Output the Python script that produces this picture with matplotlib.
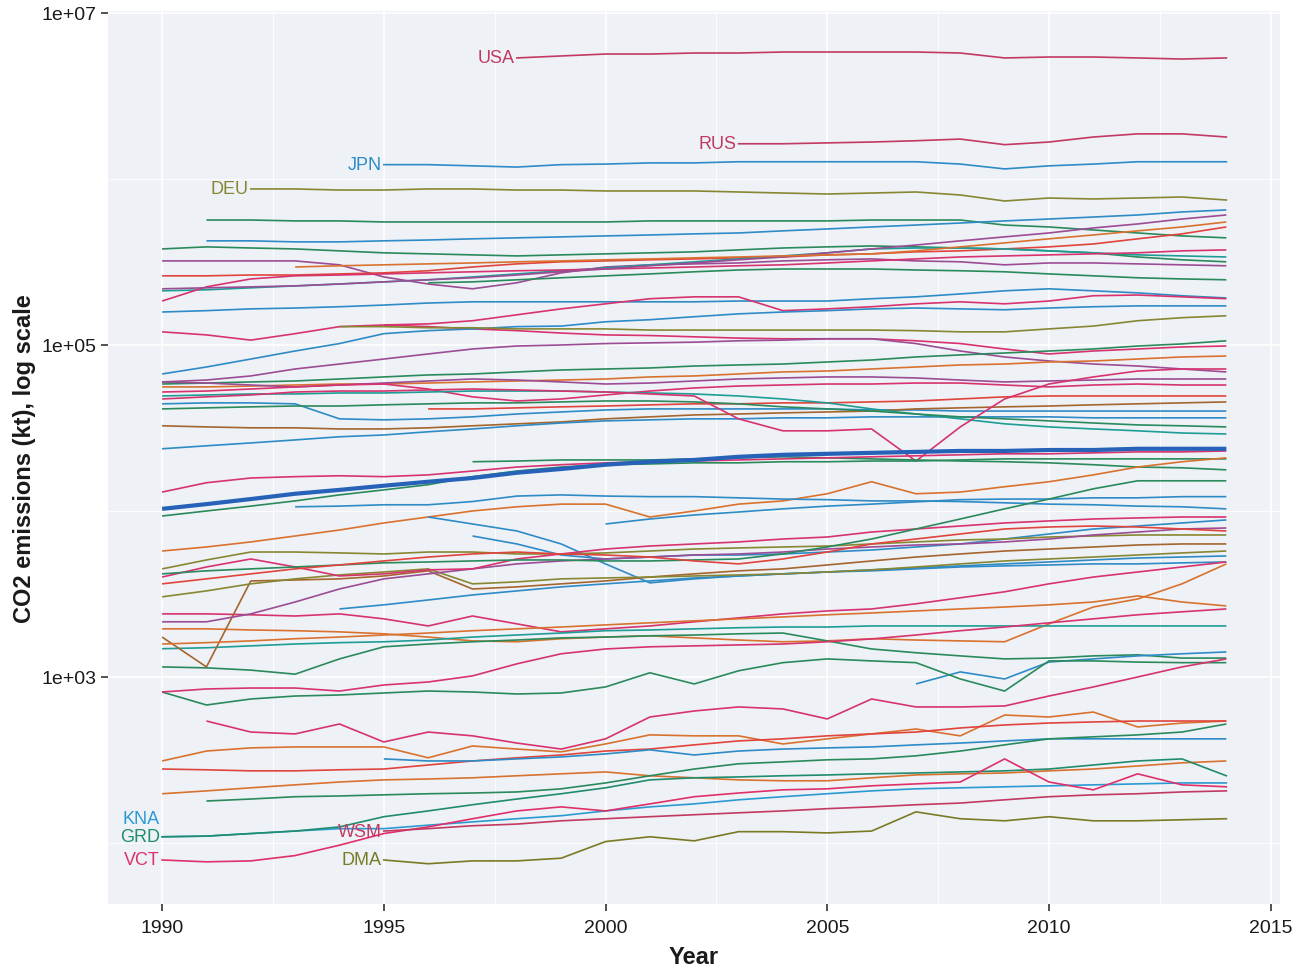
import matplotlib
matplotlib.use("Agg")
import matplotlib.pyplot as plt
from matplotlib.ticker import FixedLocator, FixedFormatter, NullFormatter

plt.rcParams['font.family'] = ['Liberation Sans', 'DejaVu Sans']

# ---------------- data (kt of CO2, yearly from the start year) ----------------
usa = [5.36e6, 5.51e6, 5.66e6, 5.66e6, 5.74e6, 5.74e6, 5.82e6, 5.82e6, 5.82e6, 5.82e6, 5.74e6, 5.36e6, 5.43e6, 5.43e6, 5.36e6, 5.28e6, 5.36e6]
rus = [1.63e6, 1.63e6, 1.65e6, 1.67e6, 1.70e6, 1.74e6, 1.61e6, 1.67e6, 1.79e6, 1.87e6, 1.87e6, 1.79e6]
jpn = [1.22e6, 1.22e6, 1.20e6, 1.18e6, 1.22e6, 1.23e6, 1.25e6, 1.25e6, 1.27e6, 1.27e6, 1.27e6, 1.27e6, 1.27e6, 1.23e6, 1.15e6, 1.20e6, 1.23e6, 1.27e6, 1.27e6, 1.27e6]
deu = [8.71e5, 8.71e5, 8.58e5, 8.58e5, 8.71e5, 8.71e5, 8.58e5, 8.58e5, 8.47e5, 8.47e5, 8.47e5, 8.35e5, 8.23e5, 8.12e5, 8.23e5, 8.35e5, 8.01e5, 7.37e5, 7.68e5, 7.58e5, 7.68e5, 7.79e5, 7.47e5]

a01 = [5.66e5, 5.66e5, 5.59e5, 5.59e5, 5.51e5, 5.51e5, 5.51e5, 5.51e5, 5.51e5, 5.51e5, 5.59e5, 5.59e5, 5.59e5, 5.59e5, 5.59e5, 5.66e5, 5.66e5, 5.66e5, 5.28e5, 5.14e5, 4.93e5, 4.73e5, 4.54e5, 4.42e5]
a02 = [4.24e5, 4.24e5, 4.18e5, 4.18e5, 4.24e5, 4.29e5, 4.36e5, 4.42e5, 4.48e5, 4.54e5, 4.60e5, 4.67e5, 4.73e5, 4.87e5, 5.0e5, 5.14e5, 5.28e5, 5.43e5, 5.59e5, 5.74e5, 5.9e5, 6.07e5, 6.33e5, 6.51e5]
a03 = [3.79e5, 3.9e5, 3.84e5, 3.79e5, 3.69e5, 3.59e5, 3.54e5, 3.49e5, 3.44e5, 3.49e5, 3.54e5, 3.59e5, 3.64e5, 3.74e5, 3.84e5, 3.9e5, 3.95e5, 3.9e5, 3.84e5, 3.79e5, 3.69e5, 3.59e5, 3.39e5, 3.26e5, 3.17e5]
a04 = [3.21e5, 3.21e5, 3.21e5, 3.21e5, 3.04e5, 2.57e5, 2.33e5, 2.18e5, 2.37e5, 2.72e5, 2.95e5, 3.04e5, 3.08e5, 3.12e5, 3.21e5, 3.26e5, 3.3e5, 3.21e5, 3.17e5, 3.04e5, 3.12e5, 3.12e5, 3.08e5, 3.04e5, 3.0e5]
a05 = [2.61e5, 2.61e5, 2.64e5, 2.64e5, 2.68e5, 2.72e5, 2.8e5, 2.95e5, 3.08e5, 3.17e5, 3.21e5, 3.26e5, 3.3e5, 3.35e5, 3.39e5, 3.49e5, 3.54e5, 3.64e5, 3.69e5, 3.79e5, 3.9e5, 4.06e5, 4.36e5, 4.67e5, 5.14e5]
a06 = [2.12e5, 2.15e5, 2.21e5, 2.27e5, 2.33e5, 2.4e5, 2.47e5, 2.57e5, 2.68e5, 2.8e5, 2.91e5, 3.04e5, 3.17e5, 3.3e5, 3.44e5, 3.59e5, 3.79e5, 3.84e5, 3.84e5, 3.79e5, 3.69e5, 3.59e5, 3.49e5, 3.44e5, 3.39e5]
a07 = [1.84e5, 2.24e5, 2.5e5, 2.61e5, 2.64e5, 2.68e5, 2.72e5, 2.76e5, 2.8e5, 2.83e5, 2.87e5, 2.91e5, 2.95e5, 3.0e5, 3.04e5, 3.12e5, 3.21e5, 3.3e5, 3.39e5, 3.44e5, 3.49e5, 3.54e5, 3.59e5, 3.69e5, 3.74e5]
a08 = [1.58e5, 1.61e5, 1.65e5, 1.67e5, 1.7e5, 1.74e5, 1.79e5, 1.82e5, 1.82e5, 1.82e5, 1.82e5, 1.82e5, 1.82e5, 1.84e5, 1.84e5, 1.84e5, 1.9e5, 1.95e5, 2.03e5, 2.12e5, 2.18e5, 2.12e5, 2.06e5, 1.98e5, 1.92e5]
a09 = [1.2e5, 1.15e5, 1.07e5, 1.17e5, 1.29e5, 1.32e5, 1.29e5, 1.25e5, 1.22e5, 1.18e5, 1.15e5, 1.14e5, 1.12e5, 1.1e5, 1.09e5, 1.09e5, 1.09e5, 1.06e5, 1.02e5, 9.46e4, 8.83e4, 9.2e4, 9.46e4, 9.73e4, 9.86e4]
a09b = [1.32e5, 1.34e5, 1.40e5, 1.52e5, 1.65e5, 1.77e5, 1.9e5, 1.95e5, 1.95e5, 1.61e5, 1.65e5, 1.7e5, 1.77e5, 1.82e5, 1.77e5, 1.84e5, 1.98e5, 2.0e5, 1.95e5, 1.9e5]
a10 = [6.69e4, 7.37e4, 8.23e4, 9.2e4, 1.02e5, 1.17e5, 1.22e5, 1.25e5, 1.29e5, 1.3e5, 1.38e5, 1.42e5, 1.48e5, 1.54e5, 1.58e5, 1.61e5, 1.65e5, 1.67e5, 1.65e5, 1.63e5, 1.67e5, 1.7e5, 1.72e5, 1.72e5, 1.72e5]
a11 = [5.99e4, 6.15e4, 6.51e4, 7.17e4, 7.68e4, 8.23e4, 8.83e4, 9.46e4, 9.86e4, 1.0e5, 1.02e5, 1.03e5, 1.04e5, 1.06e5, 1.07e5, 1.09e5, 1.09e5, 1.02e5, 9.2e4, 8.47e4, 8.01e4, 7.68e4, 7.47e4, 7.17e4, 6.88e4]
a12 = [1.29e5, 1.29e5, 1.27e5, 1.27e5, 1.25e5, 1.25e5, 1.25e5, 1.23e5, 1.23e5, 1.23e5, 1.23e5, 1.23e5, 1.23e5, 1.22e5, 1.2e5, 1.2e5, 1.25e5, 1.3e5, 1.4e5, 1.46e5, 1.5e5]
a13 = [2.37e5, 2.4e5, 2.47e5, 2.54e5, 2.61e5, 2.68e5, 2.76e5, 2.83e5, 2.87e5, 2.87e5, 2.87e5, 2.83e5, 2.8e5, 2.76e5, 2.68e5, 2.61e5, 2.54e5, 2.5e5, 2.47e5]
a14 = [2.18e5, 2.21e5, 2.24e5, 2.27e5, 2.33e5, 2.4e5, 2.47e5, 2.54e5, 2.64e5, 2.76e5, 2.87e5, 3.0e5, 3.12e5, 3.26e5, 3.39e5, 3.59e5, 3.79e5, 4.0e5, 4.24e5, 4.48e5, 4.73e5, 5.07e5, 5.36e5, 5.74e5, 6.07e5]
a15 = [2.95e5, 3.0e5, 3.04e5, 3.08e5, 3.12e5, 3.17e5, 3.21e5, 3.26e5, 3.3e5, 3.35e5, 3.39e5, 3.44e5, 3.49e5, 3.54e5, 3.69e5, 3.9e5, 4.12e5, 4.36e5, 4.6e5, 4.87e5, 5.14e5, 5.51e5]

m01 = [5.82e4, 5.9e4, 5.99e4, 6.07e4, 6.24e4, 6.42e4, 6.6e4, 6.69e4, 6.88e4, 7.07e4, 7.17e4, 7.27e4, 7.47e4, 7.58e4, 7.68e4, 7.9e4, 8.12e4, 8.47e4, 8.71e4, 8.95e4, 9.2e4, 9.46e4, 9.86e4, 1.015e5, 1.06e5]
m02 = [5.59e4, 5.59e4, 5.66e4, 5.74e4, 5.82e4, 5.82e4, 5.9e4, 5.99e4, 6.07e4, 6.15e4, 6.24e4, 6.42e4, 6.51e4, 6.69e4, 6.88e4, 6.97e4, 7.17e4, 7.37e4, 7.58e4, 7.68e4, 7.9e4, 8.01e4, 8.23e4, 8.47e4, 8.58e4]
m03 = [5.99e4, 5.9e4, 5.74e4, 5.59e4, 5.74e4, 5.9e4, 6.07e4, 6.24e4, 6.15e4, 5.99e4, 5.82e4, 5.9e4, 6.07e4, 6.24e4, 6.33e4, 6.42e4, 6.42e4, 6.33e4, 6.15e4, 5.99e4, 6.07e4, 6.15e4, 6.24e4, 6.24e4, 6.24e4]
m04 = [4.42e4, 4.48e4, 4.48e4, 4.42e4, 3.59e4, 3.54e4, 3.59e4, 3.69e4, 3.84e4, 3.95e4, 4.06e4, 4.12e4, 4.12e4, 4.12e4, 4.12e4, 4.12e4, 4.06e4, 4.06e4, 4.0e4, 4.0e4, 4.0e4, 4.0e4, 4.0e4, 4.0e4, 4.0e4]
m05 = [3.26e4, 3.21e4, 3.17e4, 3.17e4, 3.12e4, 3.12e4, 3.17e4, 3.26e4, 3.35e4, 3.44e4, 3.59e4, 3.69e4, 3.79e4, 3.84e4, 3.9e4, 3.95e4, 4.0e4, 4.12e4, 4.18e4, 4.24e4, 4.29e4, 4.36e4, 4.42e4, 4.48e4, 4.54e4]
m06 = [2.37e4, 2.47e4, 2.57e4, 2.68e4, 2.8e4, 2.87e4, 3.0e4, 3.12e4, 3.26e4, 3.39e4, 3.49e4, 3.54e4, 3.59e4, 3.59e4, 3.64e4, 3.64e4, 3.69e4, 3.69e4, 3.69e4, 3.69e4, 3.69e4, 3.64e4, 3.64e4, 3.64e4, 3.64e4]
m07 = [4.12e4, 4.12e4, 4.18e4, 4.24e4, 4.29e4, 4.36e4, 4.42e4, 4.42e4, 4.48e4, 4.48e4, 4.54e4, 4.6e4, 4.73e4, 4.87e4, 4.93e4, 4.93e4, 4.93e4, 4.93e4, 4.93e4]
m08 = [5.21e4, 5.28e4, 5.43e4, 5.59e4, 5.74e4, 5.82e4, 5.43e4, 4.87e4, 4.6e4, 4.73e4, 5.0e4, 5.28e4, 5.51e4, 5.66e4, 5.74e4, 5.82e4, 5.82e4, 5.9e4, 5.9e4, 5.74e4, 5.59e4, 5.74e4, 5.82e4, 5.74e4, 5.74e4]
m09 = [4.93e4, 5.0e4, 5.07e4, 5.07e4, 5.14e4, 5.14e4, 5.21e4, 5.28e4, 5.28e4, 5.28e4, 5.21e4, 5.14e4, 5.07e4, 4.93e4, 4.73e4, 4.48e4, 4.12e4, 3.84e4, 3.59e4, 3.35e4, 3.21e4, 3.12e4, 3.04e4, 2.95e4, 2.91e4]
m10 = [4.12e4, 4.18e4, 4.24e4, 4.29e4, 4.29e4, 4.36e4, 4.42e4, 4.48e4, 4.48e4, 4.54e4, 4.6e4, 4.6e4, 4.54e4, 4.42e4, 4.24e4, 4.12e4, 4.0e4, 3.84e4, 3.69e4, 3.59e4, 3.49e4, 3.39e4, 3.3e4, 3.26e4, 3.21e4]
m11 = [4.73e4, 4.87e4, 5.0e4, 5.21e4, 5.28e4, 5.28e4, 5.36e4, 5.43e4, 5.36e4, 5.28e4, 5.21e4, 5.07e4, 4.93e4, 3.59e4, 3.04e4, 3.04e4, 3.12e4, 2.0e4, 3.21e4, 4.73e4, 5.82e4, 6.42e4, 6.97e4, 7.17e4, 7.17e4]

world_mean = [1.03e4, 1.1e4, 1.18e4, 1.27e4, 1.34e4, 1.42e4, 1.5e4, 1.58e4, 1.7e4, 1.79e4, 1.9e4, 1.98e4, 2.03e4, 2.12e4, 2.18e4, 2.21e4, 2.24e4, 2.27e4, 2.3e4, 2.3e4, 2.33e4, 2.33e4, 2.37e4, 2.37e4, 2.37e4]
c01 = [9.33e3, 1.0e4, 1.07e4, 1.15e4, 1.25e4, 1.34e4, 1.44e4, 1.61e4, 1.74e4, 1.84e4, 1.9e4, 1.92e4, 1.95e4, 1.95e4, 1.98e4, 1.98e4, 2.0e4, 2.0e4, 2.03e4, 2.06e4, 2.06e4, 2.06e4, 2.06e4, 2.06e4, 2.06e4]
c02 = [1.98e4, 2.0e4, 2.03e4, 2.03e4, 2.03e4, 2.06e4, 2.09e4, 2.12e4, 2.09e4, 2.06e4, 2.03e4, 2.0e4, 1.98e4, 1.95e4, 1.9e4, 1.84e4, 1.82e4, 1.77e4]
c03 = [1.3e4, 1.48e4, 1.58e4, 1.61e4, 1.63e4, 1.61e4, 1.65e4, 1.74e4, 1.84e4, 1.9e4, 1.95e4, 1.98e4, 2.0e4, 2.03e4, 2.06e4, 2.09e4, 2.12e4, 2.15e4, 2.18e4, 2.21e4, 2.21e4, 2.24e4, 2.27e4, 2.27e4, 2.3e4]
c04 = [5.74e3, 6.07e3, 6.51e3, 7.07e3, 7.68e3, 8.47e3, 9.2e3, 1.0e4, 1.06e4, 1.1e4, 1.1e4, 9.2e3, 1.0e4, 1.1e4, 1.15e4, 1.27e4, 1.5e4, 1.27e4, 1.3e4, 1.4e4, 1.5e4, 1.65e4, 1.84e4, 1.98e4, 2.09e4]
c05 = [1.06e4, 1.07e4, 1.09e4, 1.09e4, 1.14e4, 1.23e4, 1.25e4, 1.23e4, 1.22e4, 1.22e4, 1.2e4, 1.18e4, 1.17e4, 1.15e4, 1.15e4, 1.14e4, 1.12e4, 1.1e4, 1.09e4, 1.07e4, 1.06e4, 1.03e4]
c06 = [9.2e3, 8.35e3, 7.58e3, 6.33e3, 4.8e3, 3.69e3, 3.9e3, 4.06e3, 4.18e3, 4.29e3, 4.36e3, 4.48e3, 4.6e3, 4.67e3, 4.73e3, 4.8e3, 4.8e3, 4.87e3, 4.93e3]
c07 = [7.07e3, 6.33e3, 5.43e3, 5.14e3, 5.28e3, 5.43e3, 5.43e3, 5.51e3, 5.66e3, 5.82e3, 6.07e3, 6.33e3, 6.78e3, 7.27e3, 7.79e3, 8.12e3, 8.47e3, 8.83e3]
c08 = [2.57e3, 2.72e3, 2.91e3, 3.12e3, 3.3e3, 3.49e3, 3.64e3, 3.79e3, 3.95e3, 4.06e3, 4.18e3, 4.29e3, 4.42e3, 4.54e3, 4.67e3, 4.8e3, 4.93e3, 5.07e3, 5.21e3, 5.28e3, 5.36e3]
c09 = [4.48e3, 5.07e3, 5.66e3, 5.66e3, 5.59e3, 5.51e3, 5.66e3, 5.66e3, 5.51e3, 5.51e3, 5.59e3, 5.74e3, 5.9e3, 5.99e3, 6.07e3, 6.15e3, 6.33e3, 6.51e3, 6.69e3, 6.78e3, 6.97e3, 7.07e3, 7.17e3, 7.17e3, 7.17e3]
c10 = [8.35e3, 8.95e3, 9.46e3, 9.86e3, 1.03e4, 1.07e4, 1.1e4, 1.135e4, 1.17e4, 1.18e4, 1.18e4, 1.2e4, 1.2e4, 1.22e4, 1.22e4]

d01 = [2.4e3, 2.4e3, 2.37e3, 2.33e3, 2.4e3, 2.24e3, 2.03e3, 2.33e3, 2.09e3, 1.87e3, 1.95e3, 2.03e3, 2.15e3, 2.27e3, 2.4e3, 2.5e3, 2.57e3, 2.76e3, 3.0e3, 3.26e3, 3.64e3, 4.0e3, 4.29e3, 4.6e3, 4.93e3]
d02 = [1.95e3, 1.95e3, 1.92e3, 1.9e3, 1.87e3, 1.82e3, 1.74e3, 1.65e3, 1.63e3, 1.7e3, 1.74e3, 1.77e3, 1.72e3, 1.67e3, 1.63e3, 1.65e3, 1.7e3, 1.67e3, 1.65e3, 1.63e3, 2.09e3, 2.64e3, 2.95e3, 3.64e3, 4.8e3]
d03 = [1.48e3, 1.5e3, 1.54e3, 1.58e3, 1.61e3, 1.63e3, 1.67e3, 1.74e3, 1.79e3, 1.84e3, 1.9e3, 1.92e3, 1.95e3, 1.98e3, 2.0e3, 2.0e3, 2.03e3, 2.03e3, 2.03e3, 2.03e3, 2.03e3, 2.03e3, 2.03e3, 2.03e3, 2.03e3]
d04 = [1.15e3, 1.135e3, 1.1e3, 1.04e3, 1.285e3, 1.52e3, 1.58e3, 1.63e3, 1.67e3, 1.72e3, 1.74e3, 1.77e3, 1.79e3, 1.82e3, 1.84e3, 1.65e3, 1.475e3, 1.4e3, 1.34e3, 1.285e3, 1.3e3, 1.34e3, 1.36e3, 1.3e3, 1.3e3]
d05 = [1.74e3, 1.15e3, 3.79e3, 3.84e3, 3.9e3, 4.06e3, 4.36e3, 3.39e3, 3.49e3, 3.64e3, 3.79e3, 4.0e3, 4.18e3, 4.36e3, 4.48e3, 4.73e3, 5.0e3, 5.28e3, 5.51e3, 5.74e3, 5.9e3, 6.07e3, 6.24e3, 6.33e3, 6.33e3]
d06 = [3.04e3, 3.3e3, 3.64e3, 3.9e3, 4.12e3, 4.29e3, 4.48e3, 3.64e3, 3.74e3, 3.9e3, 3.95e3, 4.0e3, 4.06e3, 4.12e3, 4.18e3, 4.29e3, 4.42e3, 4.6e3, 4.8e3, 5.0e3, 5.14e3, 5.28e3, 5.43e3, 5.59e3, 5.74e3]
d07 = [2.15e3, 2.15e3, 2.4e3, 2.83e3, 3.39e3, 3.9e3, 4.18e3, 4.48e3, 4.8e3, 5.0e3, 5.14e3, 5.28e3, 5.43e3, 5.51e3, 5.66e3, 5.9e3, 6.07e3, 6.24e3, 6.33e3, 6.51e3, 6.78e3, 7.17e3, 7.47e3, 7.79e3, 7.9e3]
d08 = [4.0e3, 4.6e3, 5.14e3, 4.6e3, 4.06e3, 4.18e3, 4.42e3, 4.48e3, 5.14e3, 5.51e3, 5.9e3, 6.15e3, 6.33e3, 6.51e3, 6.78e3, 6.97e3, 7.47e3, 7.79e3, 8.12e3, 8.47e3, 8.71e3, 8.95e3, 9.08e3, 9.2e3, 9.2e3]
d09 = [4.18e3, 4.36e3, 4.48e3, 4.6e3, 4.73e3, 4.87e3, 4.93e3, 5.0e3, 5.07e3, 5.07e3, 5.0e3, 5.0e3, 5.07e3, 5.14e3, 5.51e3, 6.07e3, 6.78e3, 7.79e3, 8.95e3, 1.03e4, 1.18e4, 1.36e4, 1.52e4, 1.52e4, 1.52e4]
d10 = [1.58e3, 1.61e3, 1.65e3, 1.7e3, 1.74e3, 1.79e3, 1.84e3, 1.9e3, 1.95e3, 2.0e3, 2.06e3, 2.12e3, 2.18e3, 2.24e3, 2.3e3, 2.37e3, 2.43e3, 2.5e3, 2.57e3, 2.64e3, 2.72e3, 2.83e3, 3.08e3, 2.83e3, 2.68e3]
d11 = [3.64e3, 3.9e3, 4.18e3, 4.48e3, 4.73e3, 5.0e3, 5.28e3, 5.51e3, 5.66e3, 5.51e3, 5.43e3, 5.28e3, 5.0e3, 4.8e3, 5.14e3, 5.66e3, 6.33e3, 6.78e3, 7.27e3, 7.79e3, 8.01e3, 8.12e3, 8.01e3, 7.79e3, 7.58e3]

e01 = [908, 1073, 973, 1230, 1285, 1340, 1380, 1415]
e02 = [812, 678, 737, 768, 779, 801, 823, 812, 790, 801, 871, 1060, 908, 1090, 1220, 1285, 1250, 1220, 973, 823, 1250, 1250, 1230, 1220, 1220]
e03 = [812, 847, 858, 858, 823, 895, 933, 1015, 1200, 1380, 1475, 1520, 1540, 1560, 1580, 1630, 1695, 1790, 1900, 2000, 2120, 2240, 2370, 2470, 2570]
e04 = [543, 466, 454, 521, 406, 466, 442, 400, 368, 424, 574, 624, 660, 642, 559, 737, 660, 660, 669, 768, 871, 1000, 1150, 1285]
e05 = [312, 358, 374, 379, 379, 379, 326, 384, 368, 354, 395, 448, 442, 442, 395, 424, 454, 486, 442, 590, 574, 615, 500, 528, 543]
e06 = [279, 276, 272, 272, 276, 279, 295, 312, 326, 339, 358, 368, 390, 412, 424, 442, 454, 466, 493, 514, 528, 536, 543, 543, 543]
e07 = [321, 312, 312, 321, 330, 344, 364, 339, 358, 368, 374, 379, 390, 400, 412, 424, 424, 424, 424, 424]
e08 = [198, 206, 215, 224, 233, 240, 243, 247, 254, 261, 268, 254, 247, 240, 237, 237, 247, 257, 261, 264, 272, 279, 291, 304, 312]
e09 = [179, 184, 190, 192, 195, 198, 200, 203, 212, 230, 254, 279, 300, 308, 317, 321, 335, 358, 390, 424, 436, 448, 466, 521]

grd = [109, 110, 114, 118, 125, 144, 156, 170, 184, 198, 215, 240, 247, 250, 254, 257, 261, 264, 268, 272, 279, 295, 312, 321, 254]
kna = [109, 110, 114, 118, 122, 122, 128, 134, 140, 146, 156, 165, 172, 182, 190, 198, 206, 212, 215, 218, 221, 224, 227, 230, 230]
vct = [79, 77, 78, 84, 97, 114, 125, 140, 156, 165, 156, 172, 190, 200, 209, 212, 221, 227, 233, 321, 233, 209, 261, 224, 218]
wsm = [118, 122, 127, 130, 136, 140, 144, 148, 152, 156, 161, 165, 170, 174, 182, 190, 195, 198, 203, 206]
dma = [79, 75, 78, 78, 81, 102, 109, 103, 117, 117, 115, 118, 154, 140, 136, 144, 136, 136, 138, 140]

# ---------------- styling ----------------
PINK, CRIMSON, GREEN, BLUE = '#D7336F', '#C23A63', '#2A8A5C', '#2E8BC6'
ORANGE, OLIVE, PURPLE, RED = '#D9722E', '#878733', '#9B4C95', '#E0443C'
TEAL, BROWN, MEAN = '#1E9C96', '#A5652E', '#2662B8'

series = [
    (a01, 1991, GREEN), (a02, 1991, BLUE), (a03, 1990, GREEN), (a04, 1990, PURPLE),
    (a05, 1990, RED), (a06, 1990, TEAL), (a07, 1990, PINK), (a08, 1990, BLUE),
    (a09, 1990, PINK), (a09b, 1995, PINK), (a10, 1990, BLUE), (a11, 1990, PURPLE),
    (a12, 1994, OLIVE), (a13, 1996, GREEN), (a14, 1990, PURPLE), (a15, 1993, ORANGE),
    (m01, 1990, GREEN), (m02, 1990, ORANGE), (m03, 1990, PURPLE), (m04, 1990, BLUE),
    (m05, 1990, BROWN), (m06, 1990, BLUE), (m07, 1996, RED), (m08, 1990, PINK),
    (m09, 1990, TEAL), (m10, 1990, GREEN), (m11, 1990, PINK),
    (c01, 1990, GREEN), (c02, 1997, GREEN), (c03, 1990, PINK), (c04, 1990, ORANGE),
    (c05, 1993, BLUE), (c06, 1996, BLUE), (c07, 1997, BLUE), (c08, 1994, BLUE),
    (c09, 1990, OLIVE), (c10, 2000, BLUE),
    (d01, 1990, PINK), (d02, 1990, ORANGE), (d03, 1990, TEAL), (d04, 1990, GREEN),
    (d05, 1990, BROWN), (d06, 1990, OLIVE), (d07, 1990, PURPLE), (d08, 1990, PINK),
    (d09, 1990, GREEN), (d10, 1990, ORANGE), (d11, 1990, RED),
    (e01, 2007, BLUE), (e02, 1990, GREEN), (e03, 1990, PINK), (e04, 1991, PINK),
    (e05, 1990, ORANGE), (e06, 1990, RED), (e07, 1995, BLUE), (e08, 1990, ORANGE),
    (e09, 1991, GREEN),
]

labelled = [
    ('USA', usa, 1998, CRIMSON, 0), ('RUS', rus, 2003, CRIMSON, 0),
    ('JPN', jpn, 1995, BLUE, 0), ('DEU', deu, 1992, OLIVE, 0),
    ('KNA', kna, 1990, '#2C9AD2', 13), ('GRD', grd, 1990, '#1F8C6C', 0),
    ('VCT', vct, 1990, '#DF3069', 0), ('WSM', wsm, 1995, CRIMSON, 0),
    ('DMA', dma, 1995, '#7A7A24', 0),
]

fig = plt.figure(figsize=(13.01, 9.70), dpi=100)
ax = fig.add_axes([108 / 1301, 1 - 905 / 970, 1172 / 1301, 893 / 970])
ax.set_facecolor('#EEF1F6')
for s in ax.spines.values():
    s.set_visible(False)

for vals, start, col in series:
    yrs = list(range(start, start + len(vals)))
    ax.plot(yrs, vals, color=col, lw=1.2, solid_capstyle='butt', zorder=3)

for name, vals, start, col, dy in labelled:
    yrs = list(range(start, start + len(vals)))
    ax.plot(yrs, vals, color=col, lw=1.2, zorder=3)
    ax.annotate(name, xy=(yrs[0], vals[0]), xytext=(-1.5, dy), textcoords='offset points',
                ha='right', va='center', color=col, fontsize=13, zorder=5)

ax.plot(list(range(1990, 1990 + len(world_mean))), world_mean, color=MEAN, lw=3.0,
        solid_capstyle='butt', zorder=4)

ax.set_yscale('log')
ax.set_xlim(1988.78, 2015.21)
ax.set_ylim(42.9, 1.028e7)

ax.xaxis.set_major_locator(FixedLocator([1990, 1995, 2000, 2005, 2010, 2015]))
ax.xaxis.set_minor_locator(FixedLocator([1992.5, 1997.5, 2002.5, 2007.5, 2012.5]))
ax.yaxis.set_major_locator(FixedLocator([1e3, 1e5, 1e7]))
ax.yaxis.set_major_formatter(FixedFormatter(['1e+03', '1e+05', '1e+07']))
ax.yaxis.set_minor_locator(FixedLocator([1e2, 1e4, 1e6]))
ax.yaxis.set_minor_formatter(NullFormatter())
ax.xaxis.set_minor_formatter(NullFormatter())
ax.grid(which='major', color='white', lw=1.2, zorder=0)
ax.grid(which='minor', color='white', lw=0.6, zorder=0)
ax.set_axisbelow(True)
ax.tick_params(which='major', length=5, width=1.2, color='#333333', labelsize=14,
               labelcolor='#1a1a1a')
ax.tick_params(axis='x', which='major', pad=6)
ax.tick_params(axis='y', which='major', pad=3)
ax.tick_params(which='minor', length=0)

ax.set_xlabel('Year', fontsize=17, fontweight='bold', color='#1a1a1a', labelpad=6)
ax.set_ylabel('CO2 emissions (kt), log scale', fontsize=17, fontweight='bold',
              color='#1a1a1a', labelpad=4)

fig.savefig('out.png', dpi=100)
